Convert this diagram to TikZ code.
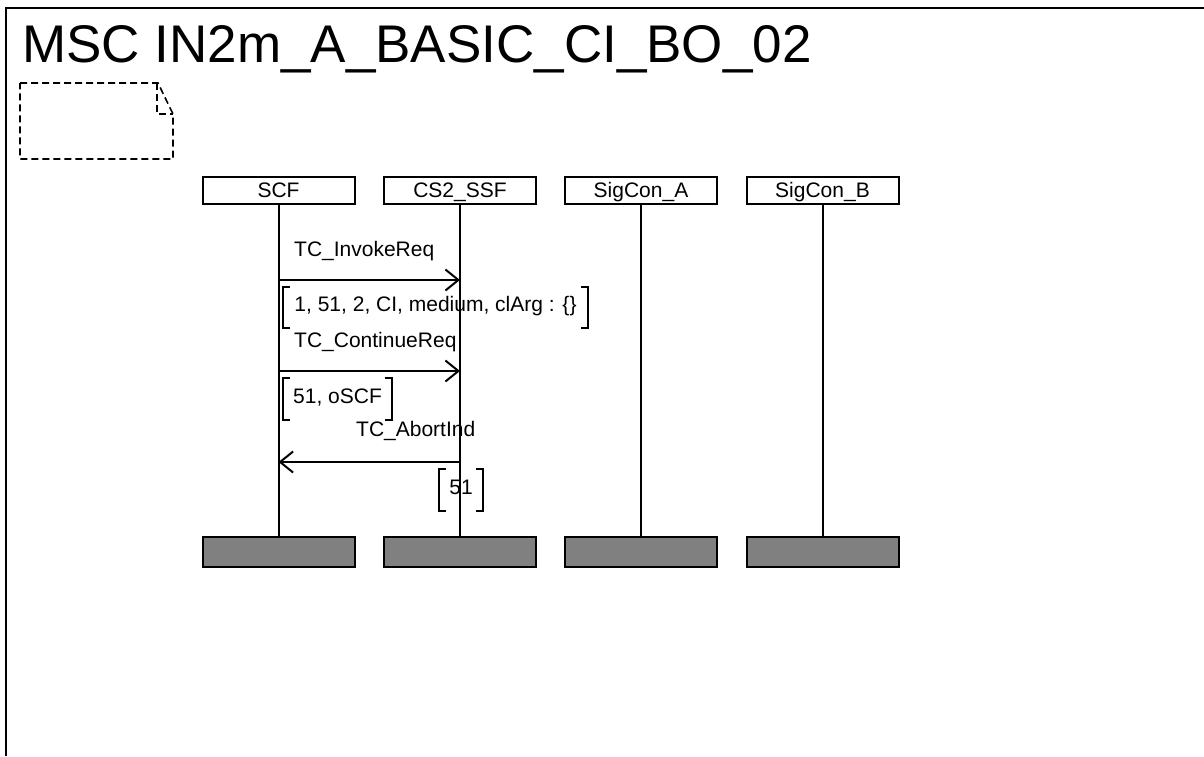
\documentclass[tikz,border=0pt]{standalone}
\usepackage{fontspec}
\setmainfont{Liberation Sans}
\usepackage{tikz}
\usetikzlibrary{arrows.meta,positioning,calc}

\begin{document}
\begin{tikzpicture}[x=1pt,y=-1pt,
  inst/.style={draw=black, line width=2pt, fill=white, minimum width=152pt, minimum height=27pt, inner sep=0pt, text height=15pt, text depth=0pt, font=\fontsize{21}{25}\selectfont},
  stopbox/.style={inst, fill=black!50, minimum height=30pt},
  life/.style={line width=2pt},
  msg/.style={line width=2pt, -{Straight Barb[length=13pt, width=21pt, line width=2pt]}},
  lbl/.style={anchor=base west, inner sep=0pt, font=\fontsize{21}{25}\selectfont},
  param/.style={inner sep=0pt, minimum height=41pt, text height=15pt, text depth=7pt, font=\fontsize{21}{25}\selectfont},
  brk/.style={line width=2pt}]
  \useasboundingbox (0,0) rectangle (1204,756);
  % cadre
  \draw[line width=2pt] (6,756) -- (6,8) -- (1204,8);
  \node[anchor=base west, inner sep=0pt, font=\fontsize{53}{60}\selectfont] (titre) at (22,62) {MSC IN2m\_A\_BASIC\_CI\_BO\_02};
  % commentaire
  \draw[line width=1.6pt, dash pattern=on 7pt off 4pt] (20,83) -- (158,83) -- (173,114) -- (173,159) -- (20,159) -- cycle;
  \draw[line width=1.6pt, dash pattern=on 7pt off 4pt] (157,83) -- (157,114) -- (173,114);
  % instances
  \node[inst] (SCF) at (278.5,190) {SCF};
  \node[inst] (SSF) at (460,190)   {CS2\_SSF};
  \node[inst] (SCA) at (641,190)   {SigCon\_A};
  \node[inst] (SCB) at (822.5,190) {SigCon\_B};
  \node[stopbox] (SCFend) at (278.5,552) {};
  \node[stopbox] (SSFend) at (460,552)   {};
  \node[stopbox] (SCAend) at (641,552)   {};
  \node[stopbox] (SCBend) at (822.5,552) {};
  \draw[life] (SCF) -- (SCFend);
  \draw[life] (SSF) -- (SSFend);
  \draw[life] (SCA) -- (SCAend);
  \draw[life] (SCB) -- (SCBend);
  % messages
  \coordinate (m1a) at (278.5,280);
  \coordinate (m1b) at (460,280);
  \coordinate (m2a) at (278.5,371);
  \coordinate (m2b) at (460,371);
  \coordinate (m3a) at (278.5,462);
  \coordinate (m3b) at (460,462);
  \draw[msg] (m1a) -- (m1b);
  \draw[msg] (m2a) -- (m2b);
  \draw[msg] (m3b) -- (m3a);
  \node[lbl] (l1) at (294,256) {TC\_InvokeReq};
  \node[lbl] (l2) at (294,347) {TC\_ContinueReq};
  \node[lbl] (l3) at (356,436) {TC\_AbortInd};
  % paramètres
  \node[param, minimum width=305pt] (p1) at (435.5,307.5) {1, 51, 2, CI, medium, clArg : \{\}};
  \node[param, minimum width=109pt] (p2) at (337.5,399)   {51, oSCF};
  \node[param, minimum width=44pt]  (p3) at (461,490)     {51};
  \foreach \p in {p1,p2,p3} {
    \draw[brk] ($(\p.north west)+(7,0)$) -- (\p.north west) -- (\p.south west) -- ++(7,0);
    \draw[brk] ($(\p.north east)+(-7,0)$) -- (\p.north east) -- (\p.south east) -- ++(-7,0);
  }
\end{tikzpicture}
\end{document}
